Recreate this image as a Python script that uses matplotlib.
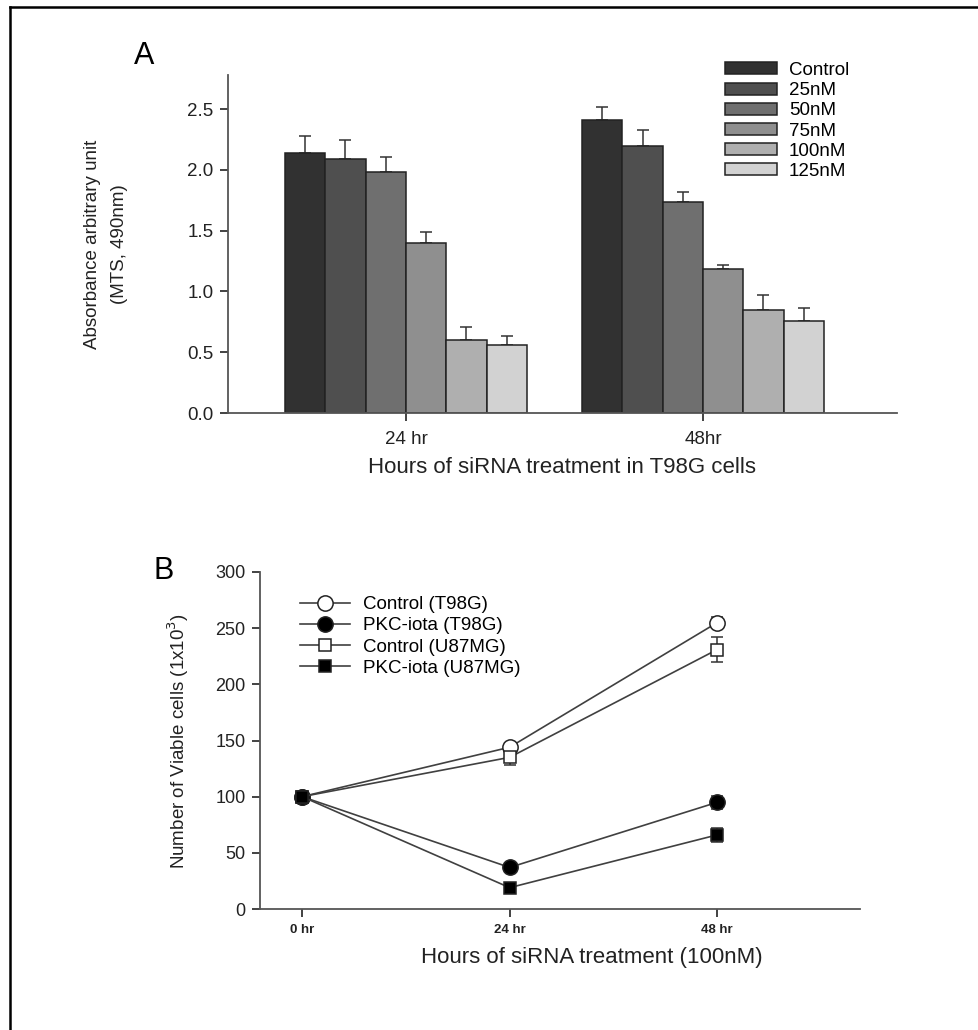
import numpy as np
import matplotlib
matplotlib.use('Agg')
import matplotlib.pyplot as plt
from matplotlib.lines import Line2D

plt.rcParams['font.family'] = ['Liberation Sans', 'DejaVu Sans']

# ---------------- Data : panel A (MTS absorbance)
groups = ['24 hr', '48hr']
doses = ['Control', '25nM', '50nM', '75nM', '100nM', '125nM']
abs_24 = [2.14, 2.09, 1.98, 1.40, 0.60, 0.56]
err_24 = [0.14, 0.155, 0.125, 0.09, 0.105, 0.075]
abs_48 = [2.41, 2.195, 1.735, 1.185, 0.85, 0.76]
err_48 = [0.11, 0.135, 0.08, 0.035, 0.12, 0.105]
bar_colors = ['#313131', '#4f4f4f', '#6f6f6f', '#8f8f8f', '#afafaf', '#d2d2d2']

# ---------------- Data : panel B (viable cells)
hours = [0, 24, 48]
hour_labels = ['0 hr', '24 hr', '48 hr']
ctrl_t98g = [100, 144, 255]
ctrl_t98g_err = [0, 4, 5]
pkc_t98g = [100, 37, 95]
pkc_t98g_err = [0, 4, 6]
ctrl_u87 = [100, 135, 231]
ctrl_u87_err = [0, 7, 11]
pkc_u87 = [100, 19, 66]
pkc_u87_err = [0, 3, 6]

W, H = 979, 1030
fig = plt.figure(figsize=(W / 100, H / 100), dpi=100)

spine_col = '#555555'
txt_col = '#222222'


def px_box(left, top, right, bottom):
    # pixels -> figure fraction
    return [left / W, 1 - bottom / H, (right - left) / W, (bottom - top) / H]


def style_axes(ax):
    for s in ['top', 'right']:
        ax.spines[s].set_visible(False)
    for s in ['left', 'bottom']:
        ax.spines[s].set_color(spine_col)
        ax.spines[s].set_linewidth(1.3)
    ax.tick_params(direction='out', length=5.5, width=1.2, color=spine_col)


# ---------------- Panel A
axA = fig.add_axes(px_box(228, 75, 897, 413))
w = 0.1357
x = np.arange(len(groups))
handles = []
for i in range(len(doses)):
    vals = [abs_24[i], abs_48[i]]
    errs = [err_24[i], err_48[i]]
    pos = x + (i - 2.5) * w
    b = axA.bar(pos, vals, width=w, color=bar_colors[i], edgecolor='#222222',
                linewidth=1.1, label=doses[i], zorder=2)
    axA.errorbar(pos, vals, yerr=[np.zeros(2), errs], fmt='none', ecolor='#333333',
                 elinewidth=1.1, capsize=4.5, capthick=1.1, zorder=1)
    handles.append(b)

axA.set_xlim(-0.599, 1.653)
axA.set_ylim(0, 2.78)
axA.set_yticks([0, 0.5, 1.0, 1.5, 2.0, 2.5])
axA.set_yticklabels(['0.0', '0.5', '1.0', '1.5', '2.0', '2.5'])
axA.set_xticks(x)
axA.set_xticklabels(groups)
style_axes(axA)
axA.tick_params(labelsize=13.5, colors=txt_col, pad=5)
axA.tick_params(axis='x', length=6, pad=7)

axA.legend(handles=handles, loc='upper left', bbox_to_anchor=(725 / W, 1 - 62 / H),
           bbox_transform=fig.transFigure, frameon=False, fontsize=13.5,
           handlelength=2.77, handleheight=0.6, handletextpad=0.64,
           labelspacing=0.17, borderpad=0, borderaxespad=0)

fig.text(106 / W, 1 - 244 / H, 'Absorbance arbitrary unit\n(MTS, 490nm)', rotation=90,
         ha='center', va='center', fontsize=13.5, linespacing=1.75, color=txt_col)
fig.text(562 / W, 1 - 468 / H, 'Hours of siRNA treatment in T98G cells', ha='center',
         va='center', fontsize=16, color=txt_col)
fig.text(144 / W, 1 - 56 / H, 'A', ha='center', va='center', fontsize=22)

# ---------------- Panel B
axB = fig.add_axes(px_box(260, 572, 860, 909))
line_col = '#404040'
series = [
    (ctrl_t98g, ctrl_t98g_err, 'o', 'white', 11, 'Control (T98G)'),
    (pkc_t98g, pkc_t98g_err, 'o', 'black', 11, 'PKC-iota (T98G)'),
    (ctrl_u87, ctrl_u87_err, 's', 'white', 9, 'Control (U87MG)'),
    (pkc_u87, pkc_u87_err, 's', 'black', 9, 'PKC-iota (U87MG)'),
]
hB = []
for vals, errs, mk, fc, ms, lab in series:
    axB.errorbar(hours, vals, yerr=errs, color=line_col, lw=1.2, marker=mk,
                 markersize=ms, markerfacecolor=fc, markeredgecolor='#222222',
                 markeredgewidth=1.1, ecolor='#333333', elinewidth=1.1,
                 capsize=4.5, capthick=1.1)
    # legend entry without error bar
    hB.append(Line2D([], [], color=line_col, lw=1.2, marker=mk, markersize=ms,
                     markerfacecolor=fc, markeredgecolor='#222222',
                     markeredgewidth=1.1, label=lab))

axB.set_xlim(-4.86, 64.5)
axB.set_ylim(0, 300)
axB.set_yticks(np.arange(0, 301, 50))
axB.set_xticks(hours)
axB.set_xticklabels(hour_labels, fontweight='bold', fontsize=9.5)
style_axes(axB)
axB.tick_params(axis='y', labelsize=13, colors=txt_col, pad=5)
axB.tick_params(axis='x', colors=txt_col, pad=5)

axB.legend(handles=hB, loc='upper left', bbox_to_anchor=(300 / W, 1 - 596 / H),
           bbox_transform=fig.transFigure, frameon=False, fontsize=13.5,
           handlelength=2.67, handletextpad=0.7, labelspacing=0.22, numpoints=1,
           borderpad=0, borderaxespad=0)

fig.text(178 / W, 1 - 741 / H, 'Number of Viable cells (1x10$^3$)', rotation=90,
         ha='center', va='center', fontsize=13.5, color=txt_col)
fig.text(592 / W, 1 - 957 / H, 'Hours of siRNA treatment (100nM)', ha='center',
         va='center', fontsize=16, color=txt_col)
fig.text(164 / W, 1 - 571 / H, 'B', ha='center', va='center', fontsize=22)

# ---------------- Frame (top and left only)
fig.add_artist(Line2D([10 / W, 1], [1 - 7 / H, 1 - 7 / H], transform=fig.transFigure,
                      color='black', lw=1.8))
fig.add_artist(Line2D([10 / W, 10 / W], [0, 1 - 7 / H], transform=fig.transFigure,
                      color='black', lw=1.8))

fig.savefig('out.png', dpi=100)
